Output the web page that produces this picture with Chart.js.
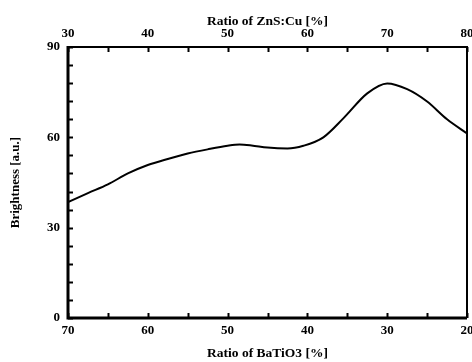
<!DOCTYPE html>
<html>
<head>
<meta charset="utf-8">
<script src="https://cdn.jsdelivr.net/npm/chart.js@4"></script>
<style>
html,body{margin:0;padding:0;background:#fff;}
#wrap{width:472px;height:362px;position:relative;}
</style>
</head>
<body>
<div id="wrap"><canvas id="c" width="472" height="362"></canvas></div>
<script>
const batio3 = [70, 67.5, 65, 62.5, 60, 57.5, 55, 52.5, 50, 48.5, 47, 45, 42.5, 40.5, 38, 35.5, 32.5, 30, 27.5, 25, 22.5, 20];
const brightness = [38.5, 41.5, 44.4, 48, 50.8, 52.8, 54.6, 56, 57.2, 57.6, 57.3, 56.6, 56.3, 57.2, 60, 66.3, 74.6, 77.9, 76, 71.9, 66, 61.3];
const bottomTicks = [70, 60, 50, 40, 30, 20];
const topTicks = [30, 40, 50, 60, 70, 80];
const yTicks = [0, 30, 60, 90];

const FONT = "'Liberation Serif', 'Times New Roman', serif";

const frameTicks = {
  id: 'frameTicks',
  afterDraw(chart) {
    const ctx = chart.ctx;
    const a = chart.chartArea;
    const sx = chart.scales.x, sx2 = chart.scales.x2, sy = chart.scales.y;
    ctx.save();
    ctx.strokeStyle = '#000';
    ctx.lineCap = 'butt';
    ctx.lineWidth = 2;
    for (let v = 20; v <= 70; v += 5) {
      const px = Math.round(sx.getPixelForValue(v)) + 0.5;
      ctx.beginPath(); ctx.moveTo(px, a.bottom); ctx.lineTo(px, a.bottom - 5); ctx.stroke();
    }
    for (let v = 30; v <= 80; v += 5) {
      const px = Math.round(sx2.getPixelForValue(v)) + 0.5;
      ctx.beginPath(); ctx.moveTo(px, a.top); ctx.lineTo(px, a.top + 5); ctx.stroke();
    }
    for (let v = 0; v <= 90; v += 6) {
      const py = Math.round(sy.getPixelForValue(v)) + 0.5;
      ctx.beginPath(); ctx.moveTo(a.left, py); ctx.lineTo(a.left + 5, py); ctx.stroke();
    }
    ctx.lineWidth = 3;
    ctx.beginPath(); ctx.moveTo(a.left, a.top - 1); ctx.lineTo(a.left, a.bottom); ctx.lineTo(a.right, a.bottom); ctx.stroke();
    ctx.lineWidth = 2;
    ctx.beginPath(); ctx.moveTo(a.left, a.top); ctx.lineTo(a.right, a.top); ctx.lineTo(a.right, a.bottom); ctx.stroke();
    ctx.restore();
  }
};

function fixW(w){ return function(s){ s.width = w; s.paddingLeft = 0; s.paddingRight = 0; s.paddingTop = 0; s.paddingBottom = 0; }; }
function fixH(h){ return function(s){ s.height = h; s.paddingLeft = 0; s.paddingRight = 0; s.paddingTop = 0; s.paddingBottom = 0; }; }

new Chart(document.getElementById('c'), {
  type: 'line',
  data: {
    datasets: [{
      data: batio3.map((x, i) => ({ x: x, y: brightness[i] })),
      borderColor: '#000',
      borderWidth: 2,
      pointRadius: 0,
      cubicInterpolationMode: 'monotone',
      fill: false,
      xAxisID: 'x',
      yAxisID: 'y'
    }]
  },
  options: {
    responsive: false,
    animation: false,
    devicePixelRatio: 1,
    layout: { padding: { left: 0, right: 5, top: 0, bottom: 0 } },
    plugins: { legend: { display: false }, tooltip: { enabled: false } },
    scales: {
      x: {
        type: 'linear', position: 'bottom', reverse: true, min: 20, max: 70,
        afterBuildTicks: s => { s.ticks = bottomTicks.map(v => ({ value: v })); },
        afterFit: fixH(44),
        grid: { display: false, drawTicks: false },
        border: { display: false },
        ticks: { color: '#000', padding: 5, maxRotation: 0, autoSkip: false, font: { family: FONT, size: 13, weight: 'bold' } },
        title: { display: true, text: 'Ratio of BaTiO3 [%]', color: '#000', padding: { top: 0, bottom: 0 }, font: { family: FONT, size: 13.5, weight: 'bold' } }
      },
      x2: {
        type: 'linear', position: 'top', min: 30, max: 80,
        afterBuildTicks: s => { s.ticks = topTicks.map(v => ({ value: v })); },
        afterFit: fixH(47),
        grid: { display: false, drawTicks: false },
        border: { display: false },
        ticks: { color: '#000', padding: 6, maxRotation: 0, autoSkip: false, font: { family: FONT, size: 13, weight: 'bold' } },
        title: { display: true, text: 'Ratio of ZnS:Cu [%]', color: '#000', padding: { top: 13, bottom: 0 }, font: { family: FONT, size: 13.5, weight: 'bold' } }
      },
      y: {
        type: 'linear', position: 'left', min: 0, max: 90,
        afterBuildTicks: s => { s.ticks = yTicks.map(v => ({ value: v })); },
        afterFit: fixW(68),
        grid: { display: false, drawTicks: false },
        border: { display: false },
        ticks: { color: '#000', padding: 8, font: { family: FONT, size: 13, weight: 'bold' } },
        title: { display: true, text: 'Brightness [a.u.]', color: '#000', padding: { top: 8, bottom: 0 }, font: { family: FONT, size: 13, weight: 'bold' } }
      }
    }
  },
  plugins: [frameTicks]
});
</script>
</body>
</html>
